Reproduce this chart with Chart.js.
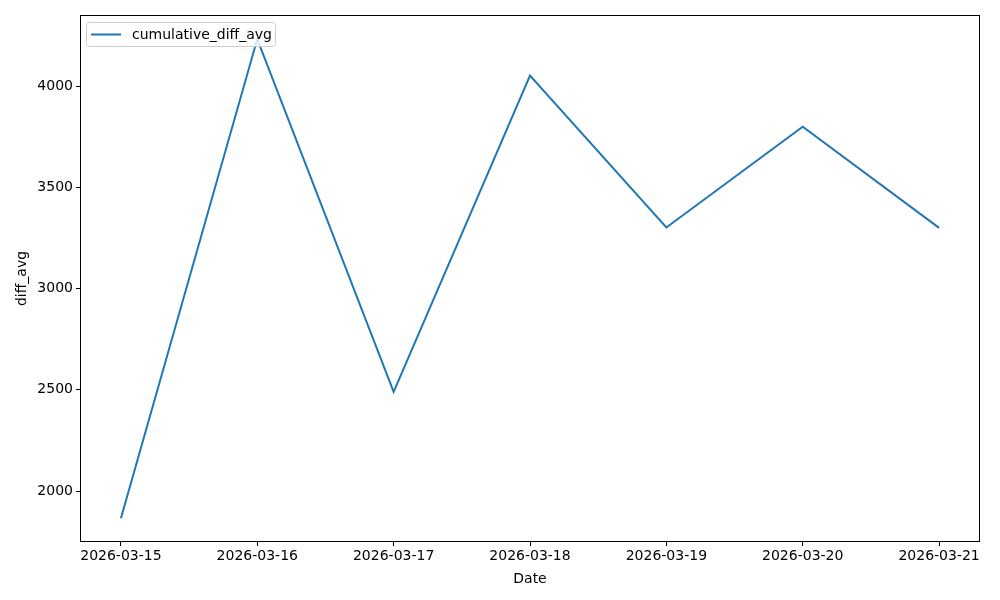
<!DOCTYPE html>
<html>
<head>
<meta charset="utf-8">
<script src="https://cdn.jsdelivr.net/npm/chart.js@4/dist/chart.umd.min.js"></script>
<style>
  html, body { margin: 0; padding: 0; background: #fff; }
  #wrap { width: 1000px; height: 600px; }
</style>
</head>
<body>
<div id="wrap"><canvas id="myChart" width="1000" height="600"></canvas></div>
<script>
const dates = ['2026-03-15', '2026-03-16', '2026-03-17', '2026-03-18', '2026-03-19', '2026-03-20', '2026-03-21'];
const diffAvg = [1865, 4233, 2490, 4053, 3302, 3800, 3300];
const yTicks = [2000, 2500, 3000, 3500, 4000];

const font = { family: 'DejaVu Sans', size: 14 };

// box round the plot area + legend inside upper left
const framePlugin = {
  id: 'frame',
  afterDraw(chart) {
    const { ctx, chartArea: a } = chart;
    ctx.save();
    ctx.strokeStyle = '#000';
    ctx.lineWidth = 1;
    ctx.strokeRect(a.left + 0.5, a.top + 0.5, a.right - a.left - 1, a.bottom - a.top - 1);

    const ds = chart.data.datasets[0];
    const x = a.left + 6, y = a.top + 7, w = 189, h = 24;
    ctx.fillStyle = 'rgba(255,255,255,0.8)';
    ctx.strokeStyle = '#cccccc';
    ctx.beginPath();
    ctx.roundRect(x + 0.5, y + 0.5, w, h, 3);
    ctx.fill();
    ctx.stroke();
    ctx.strokeStyle = ds.borderColor;
    ctx.lineWidth = 2;
    ctx.beginPath();
    ctx.moveTo(x + 5, y + 12.5);
    ctx.lineTo(x + 35, y + 12.5);
    ctx.stroke();
    ctx.fillStyle = '#000';
    ctx.font = '14px "DejaVu Sans"';
    ctx.textBaseline = 'middle';
    ctx.fillText(ds.label, x + 46, y + 13);
    ctx.restore();
  }
};

const ctx = document.getElementById('myChart').getContext('2d');
const chart = new Chart(ctx, {
  type: 'line',
  data: {
    datasets: [
      {
        label: 'cumulative_diff_avg',
        data: diffAvg.map((v, i) => ({ x: i, y: v })),
        borderColor: '#1f77b4',
        backgroundColor: '#1f77b4',
        borderWidth: 2,
        pointRadius: 0,
        tension: 0
      }
    ]
  },
  options: {
    responsive: false,
    animation: false,
    layout: { padding: { top: 15, right: 20, left: 0, bottom: 0 } },
    plugins: {
      legend: { display: false },
      tooltip: { enabled: false }
    },
    scales: {
      x: {
        type: 'linear',
        min: -0.3,
        max: 6.3,
        afterBuildTicks: axis => { axis.ticks = dates.map((d, i) => ({ value: i })); },
        afterFit: axis => { axis.height = 58; },
        ticks: {
          color: '#000',
          font: font,
          maxRotation: 0,
          autoSkip: false,
          padding: 2,
          callback: v => dates[v]
        },
        grid: { drawOnChartArea: false, tickLength: 4, tickColor: '#000' },
        border: { display: false },
        title: { display: true, text: 'Date', color: '#000', font: font, padding: { top: 0, bottom: 12 } }
      },
      y: {
        min: 1748,
        max: 4352,
        afterBuildTicks: axis => { axis.ticks = yTicks.map(v => ({ value: v })); },
        afterFit: axis => { axis.width = 80; },
        ticks: { color: '#000', font: font, padding: 3, callback: v => String(v) },
        grid: { drawOnChartArea: false, tickLength: 4, tickColor: '#000' },
        border: { display: false },
        title: { display: true, text: 'diff_avg', color: '#000', font: font, padding: { top: 14, bottom: 0 } }
      }
    }
  },
  plugins: [framePlugin]
});
</script>
</body>
</html>
